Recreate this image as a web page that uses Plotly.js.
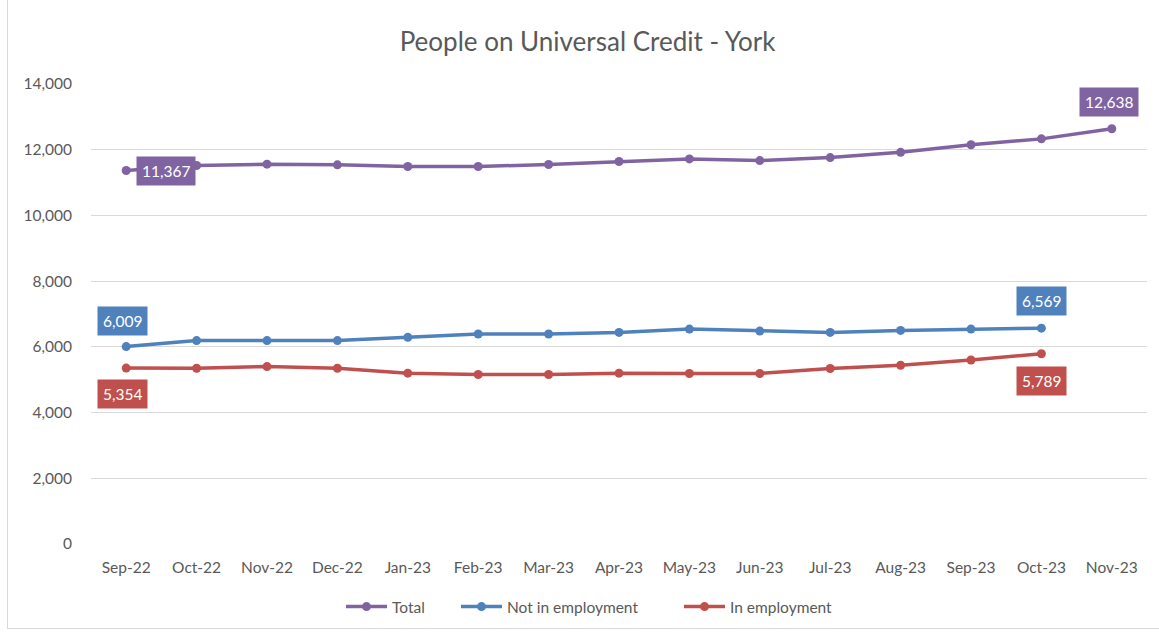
<!DOCTYPE html>
<html>
<head>
<meta charset="utf-8">
<script src="https://cdn.plot.ly/plotly-3.0.1.min.js"></script>
<style>
html,body{margin:0;padding:0;background:#fff;}
#wrap{position:relative;width:1159px;height:633px;}
#chart{width:1159px;height:633px;}
#frame{position:absolute;left:7px;top:0px;width:1160px;height:628px;border-left:1px solid #D9D9D9;border-bottom:1px solid #D9D9D9;pointer-events:none;}
</style>
</head>
<body>
<div id="wrap"><div id="chart"></div><div id="frame"></div></div>
<script>
const months = ["Sep-22","Oct-22","Nov-22","Dec-22","Jan-23","Feb-23","Mar-23","Apr-23","May-23","Jun-23","Jul-23","Aug-23","Sep-23","Oct-23","Nov-23"];
const total = [11367,11520,11560,11540,11490,11490,11550,11640,11720,11670,11760,11920,12150,12330,12638];
const notInEmployment = [6009,6190,6190,6190,6290,6390,6390,6440,6540,6480,6440,6500,6540,6569,null];
const inEmployment = [5354,5350,5400,5350,5200,5160,5160,5200,5190,5190,5340,5440,5600,5789,null];
const yTicks = [0,2000,4000,6000,8000,10000,12000,14000];
const yTickText = ["0","2,000","4,000","6,000","8,000","10,000","12,000","14,000"];

const FONT = "Lato, 'Open Sans', sans-serif";
const cPurple = "#8064A2", cBlue = "#4F81BD", cRed = "#C0504D";

function series(name, y, color, leg){
  return {x: months, y: y, name: name, type: "scatter", mode: "lines+markers", legend: leg,
    line: {color: color, width: 3.5}, marker: {color: color, size: 9}, hoverinfo: "skip"};
}
const data = [
  series("Total", total, cPurple, "legend"),
  series("Not in employment", notInEmployment, cBlue, "legend2"),
  series("In employment", inEmployment, cRed, "legend3")
];

function fmt(v){ return v.toLocaleString("en-GB"); }
function lab(i, arr, color, xs, ys){
  return {x: months[i], y: arr[i], text: fmt(arr[i]), showarrow: false, xshift: xs, yshift: ys,
    bgcolor: color, borderpad: 5, font: {family: FONT, size: 15.5, color: "#fff"}};
}
const annotations = [
  lab(0, total, cPurple, 40, 0),
  lab(14, total, cPurple, -3, 27),
  lab(0, notInEmployment, cBlue, -4, 26),
  lab(13, notInEmployment, cBlue, 0, 27),
  lab(0, inEmployment, cRed, -4, -26),
  lab(13, inEmployment, cRed, 0, -27)
];

function leg(xpx){
  return {orientation: "h", x: (xpx - 91) / 1056, xanchor: "left", y: -0.137, yanchor: "middle",
    font: {family: FONT, size: 15.5, color: "#595959"}, bgcolor: "rgba(0,0,0,0)", borderwidth: 0, itemwidth: 41};
}

const layout = {
  width: 1159, height: 633,
  margin: {l: 91, r: 12, t: 84, b: 89, autoexpand: false},
  paper_bgcolor: "#fff", plot_bgcolor: "#fff",
  title: {text: "People on Universal Credit - York", x: 0.507, xanchor: "center", y: 0.934, yanchor: "middle",
    font: {family: FONT, size: 26, color: "#595959"}},
  font: {family: FONT, color: "#595959"},
  xaxis: {type: "category", range: [-0.5, 14.5], autorange: false, automargin: false, showgrid: false, showline: false, zeroline: false, ticks: "",
    tickfont: {family: FONT, size: 15.5, color: "#595959"}, ticklabelstandoff: 12, fixedrange: true},
  yaxis: {range: [0, 14000], autorange: false, automargin: false, tickvals: yTicks, ticktext: yTickText, showgrid: true, gridcolor: "#D9D9D9", gridwidth: 1,
    zeroline: false, showline: false, ticks: "", tickfont: {family: FONT, size: 15.5, color: "#595959"},
    ticklabelstandoff: 18, fixedrange: true},
  showlegend: true,
  legend: leg(341),
  legend2: leg(456),
  legend3: leg(679),
  annotations: annotations
};
Plotly.newPlot("chart", data, layout, {displayModeBar: false, staticPlot: true});
</script>
</body>
</html>
